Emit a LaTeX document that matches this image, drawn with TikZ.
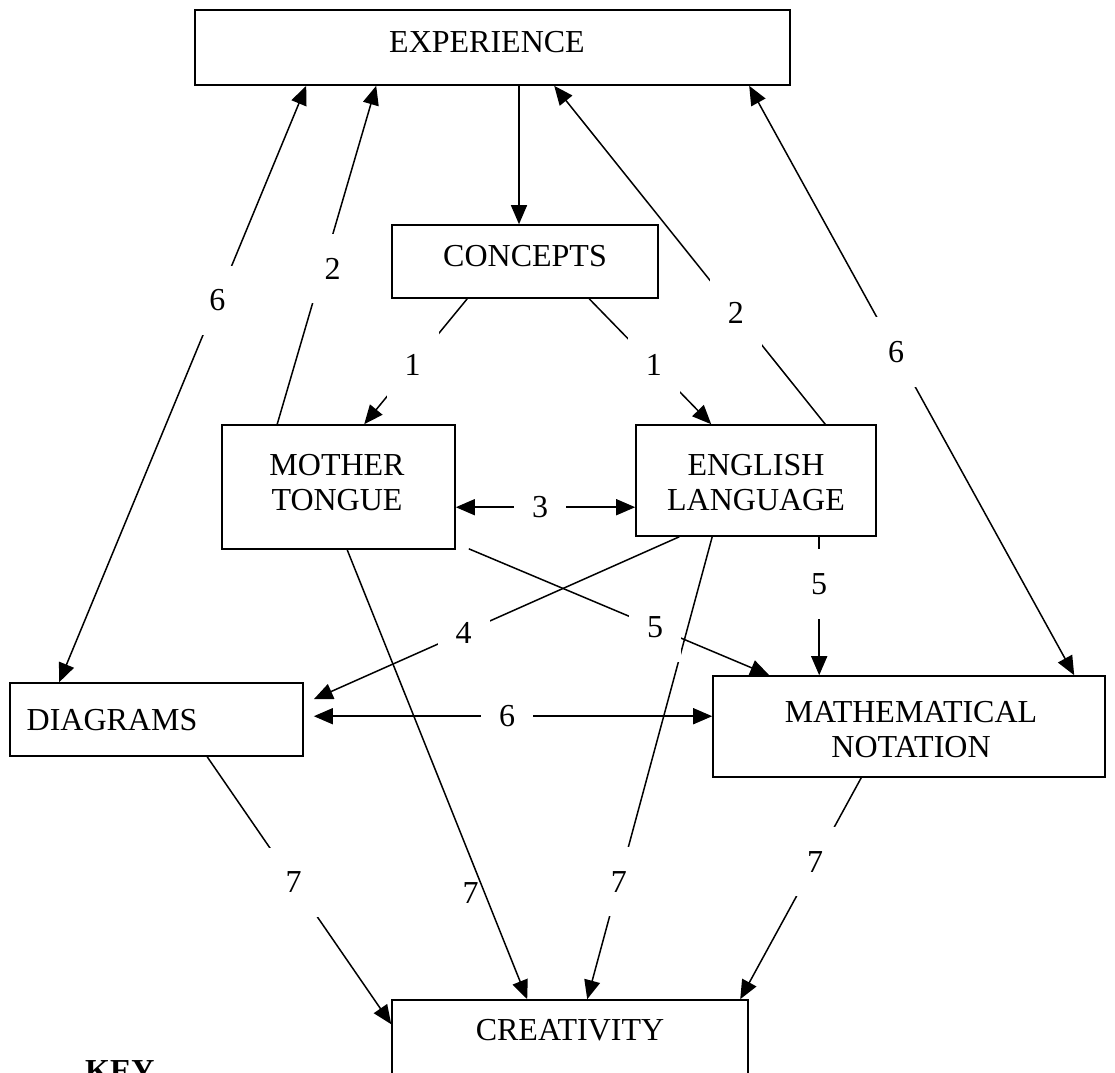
\documentclass[tikz,border=0pt]{standalone}
\usepackage{fontspec}
\setmainfont{Liberation Serif}
\usetikzlibrary{arrows.meta}
\begin{document}
\begin{tikzpicture}[x=1pt,y=-1pt,
  box/.style={draw,line width=1.6pt,inner sep=0pt,rectangle},
  txt/.style={font=\fontsize{32}{35}\selectfont,align=center,inner sep=0pt},
  con/.style={line width=1.5pt,-{Triangle[length=19pt,width=16pt]}},
  bi/.style={line width=1.5pt,{Triangle[length=19pt,width=16pt]}-{Triangle[length=19pt,width=16pt]}},
  lab/.style={font=\fontsize{32}{35}\selectfont,fill=white,inner xsep=18pt,inner ysep=24pt},
  plain/.style={font=\fontsize{32}{35}\selectfont,inner sep=0pt}]
\useasboundingbox (0,0) rectangle (1115,1072);
\clip (0,0) rectangle (1115,1072);
% boxes
\node[box,minimum width=595pt,minimum height=75pt] (exp) at (492.5,47.5) {};
\node[txt] (expT) at (487,42) {EXPERIENCE};
\node[box,minimum width=266pt,minimum height=73pt] (con) at (525,261.5) {};
\node[txt] (conT) at (525,256) {CONCEPTS};
\node[box,minimum width=233pt,minimum height=124pt] (mot) at (338.5,487) {};
\node[txt] (motT) at (337,482.5) {MOTHER\\TONGUE};
\node[box,minimum width=240pt,minimum height=111pt] (eng) at (756,480.5) {};
\node[txt] (engT) at (756,482.5) {ENGLISH\\LANGUAGE};
\node[box,minimum width=293pt,minimum height=73pt] (dia) at (156.5,719.5) {};
\node[txt] (diaT) at (112,720) {DIAGRAMS};
\node[box,minimum width=392pt,minimum height=101pt] (mat) at (909,726.5) {};
\node[txt] (matT) at (911,729.5) {MATHEMATICAL\\NOTATION};
\node[box,minimum width=356pt,minimum height=110pt] (cre) at (570,1055) {};
\node[txt] (creT) at (570,1030) {CREATIVITY};
\node[txt,font=\fontsize{32}{35}\selectfont\bfseries,anchor=base west] (key) at (85,1081) {KEY};
% connectors
\draw[con] ([xshift=26.5pt]exp.south) -- ([xshift=-6pt]con.north);
\draw[con] ([xshift=76pt]con.south west) -- node[lab,pos=.53]{1} ([xshift=143pt]mot.north west);
\draw[con] ([xshift=198pt]con.south west) -- node[lab,pos=.53]{1} ([xshift=76pt]eng.north west);
\draw[con] ([xshift=56pt]mot.north west) -- node[lab,pos=.46,xshift=10pt]{2} ([xshift=182pt]exp.south west);
\draw[con] ([xshift=190pt]eng.north west) -- node[lab,pos=.33]{2} ([xshift=360pt]exp.south west);
\draw[bi] ([xshift=50pt]dia.north west) -- node[lab,pos=.64]{6} ([xshift=112pt]exp.south west);
\draw[bi] ([xshift=362pt]mat.north west) -- node[lab,pos=.548]{6} ([xshift=555pt]exp.south west);
\draw[bi] ([yshift=-83pt]mot.north east) -- node[lab,pos=.47]{3} ([yshift=-83pt]eng.north west);
\draw[con] ([xshift=44pt]eng.south west) -- node[lab,pos=.59]{4} ([xshift=10pt,yshift=-17pt]dia.north east);
\draw[con] ([xshift=77pt]eng.south west) -- node[lab,pos=.746]{7} ([xshift=196pt]cre.north west);
\draw[con] ([xshift=13pt,yshift=1pt]mot.south east) -- node[lab,pos=.62]{5} ([xshift=57pt]mat.north west);
\draw[con] ([xshift=184pt]eng.south west) -- node[lab,pos=.34]{5} ([xshift=107pt]mat.north west);
\draw[bi] ([xshift=10pt,yshift=-34pt]dia.north east) -- node[lab,pos=.485]{6} ([yshift=-41pt]mat.north west);
\draw[con] ([xshift=198pt]dia.south west) -- node[lab,pos=.47]{7} ([yshift=-25pt]cre.north west);
\draw[con] ([xshift=126pt]mot.south west) -- node[plain,pos=.763,xshift=-14pt]{7} ([xshift=136pt]cre.north west);
\draw[con] ([xshift=149pt]mat.south west) -- node[lab,pos=.38]{7} ([xshift=349pt]cre.north west);
\end{tikzpicture}
\end{document}
